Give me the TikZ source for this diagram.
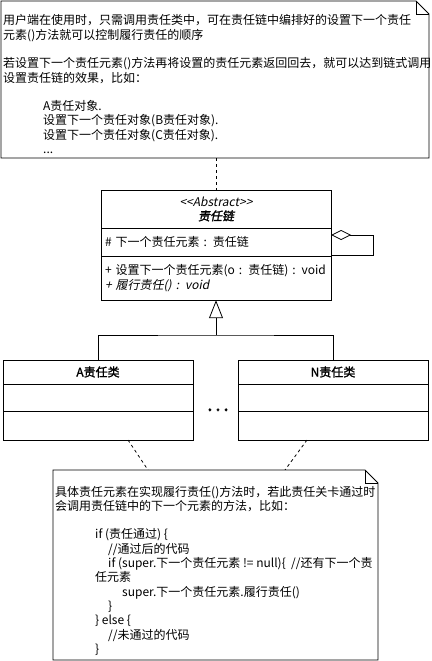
\documentclass[tikz,border=0pt]{standalone}
\usepackage{fontspec}
\setmainfont{Noto Sans CJK SC}[
  ItalicFont=Noto Sans CJK SC, ItalicFeatures={FakeSlant=0.2},
  BoldFont=Noto Sans CJK SC, BoldFeatures={FakeBold=1.5},
  BoldItalicFont=Noto Sans CJK SC, BoldItalicFeatures={FakeSlant=0.2,FakeBold=1.5}]
\usetikzlibrary{arrows.meta, positioning, fit, calc}
\definecolor{umlline}{RGB}{0, 0, 0}
\definecolor{umltext}{RGB}{0, 0, 0}
\newcommand{\umlfont}{\fontsize{12}{14.3}\selectfont}
\tikzset{
  umlpart/.style={rectangle, draw=umlline, line width=0.8pt, fill=white,
                  minimum width=#1, inner sep=0pt, outer sep=0pt,
                  align=center, font=\umlfont, text=umltext},
  umlpart/.default=190pt,
  umlrow/.style={umlpart=230pt, text width=222pt, inner xsep=4pt, align=left},
  notebox/.style={rectangle, inner sep=0pt, outer sep=0pt},
  noteline/.style={draw=umlline, line width=0.8pt, fill=white, line join=miter},
  notetext/.style={inner sep=0pt, align=left, font=\umlfont, text=umltext},
  dashline/.style={draw=umlline, line width=0.8pt, dash pattern=on 3pt off 3pt},
  edge/.style={draw=umlline, line width=0.8pt},
  inherit/.style={edge, -{Triangle[open, length=18pt, width=14pt]}},
  aggr/.style={edge, {Diamond[open, length=20pt, width=10pt]}-},
}

\begin{document}
\begin{tikzpicture}[x=1pt, y=-1pt]
  \useasboundingbox (0,0) rectangle (431,661);

  % note on top
  \node[notebox, minimum width=428pt, minimum height=157pt] (topnote) at (215,79.5) {};
  \draw[noteline] (topnote.north west) -- ([xshift=-13pt]topnote.north east)
    -- ([yshift=-13pt]topnote.north east) -- (topnote.south east)
    -- (topnote.south west) -- cycle;
  \draw[noteline, fill=none] ([xshift=-13pt]topnote.north east) |- ([yshift=-13pt]topnote.north east);
  \node[notetext, anchor=north west] (toptext) at (3,14.5) {%
    用户端在使用时，只需调用责任类中，可在责任链中编排好的设置下一个责任\\
    元素()方法就可以控制履行责任的顺序\\
    ~\\
    若设置下一个责任元素()方法再将设置的责任元素返回回去，就可以达到链式调用\\
    设置责任链的效果，比如：\\
    ~\\
    \hspace*{40pt}A责任对象.\\
    \hspace*{40pt}设置下一个责任对象(B责任对象).\\
    \hspace*{40pt}设置下一个责任对象(C责任对象).\\
    \hspace*{40pt}...};

  % abstract class
  \node[umlpart=230pt, minimum height=38pt] (chainhead) at (216,209)
    {\textit{<{}<Abstract>{}>}\\\textbf{\textit{责任链}}};
  \node[umlrow, minimum height=28pt, below=0pt of chainhead] (chainattr)
    {\# 下一个责任元素 : 责任链};
  \node[umlrow, minimum height=44pt, below=0pt of chainattr] (chainops)
    {+ 设置下一个责任元素(o : 责任链) : void\\\textit{+ 履行责任() : void}};
  \node[fit=(chainhead)(chainops), inner sep=0pt] (chain) {};

  \draw[dashline] (chain.north |- topnote.south) -- (chain.north);
  \draw[aggr] ([yshift=10pt]chain.east) -- ++(42,0) |- ([yshift=-10pt]chain.east);

  % concrete classes
  \node[umlpart, minimum height=24pt, font=\umlfont\bfseries] (ahead) at (98,372) {A责任类};
  \node[umlpart, minimum height=27pt, below=0pt of ahead] (aattr) {};
  \node[umlpart, minimum height=29pt, below=0pt of aattr] (aops) {};

  \node[umlpart, minimum height=24pt, font=\umlfont\bfseries] (nhead) at (333,372) {N责任类};
  \node[umlpart, minimum height=27pt, below=0pt of nhead] (nattr) {};
  \node[umlpart, minimum height=29pt, below=0pt of nattr] (nops) {};

  \node[font=\fontsize{20}{20}\selectfont\bfseries, anchor=base, inner sep=0pt] (dots)
    at (218,411) {.\hspace{2.5pt}.\hspace{2.5pt}.};

  \coordinate (split) at (216,335);
  \draw[edge] (ahead.north) |- (split) -| (nhead.north);
  \draw[inherit] (split) -- (chain.south);

  % note at the bottom
  \node[notebox, minimum width=325pt, minimum height=190pt] (codenote) at (215.5,565) {};
  \draw[dashline] ([xshift=30pt]aops.south) -- ([xshift=-67.5pt]codenote.north);
  \draw[dashline] ([xshift=-26pt]nops.south) -- ([xshift=69.5pt]codenote.north);
  \draw[noteline] (codenote.north west) -- ([xshift=-13pt]codenote.north east)
    -- ([yshift=-13pt]codenote.north east) -- (codenote.south east)
    -- (codenote.south west) -- cycle;
  \draw[noteline, fill=none] ([xshift=-13pt]codenote.north east) |- ([yshift=-13pt]codenote.north east);
  \node[notetext, anchor=north west] (codetext) at (55,485.7) {%
    具体责任元素在实现履行责任()方法时，若此责任关卡通过时\\
    会调用责任链中的下一个元素的方法，比如：\\
    ~\\
    \hspace*{40pt}if (责任通过) \{\\
    \hspace*{53pt}//通过后的代码\\
    \hspace*{53pt}if (super.下一个责任元素 != null)\{~~//还有下一个责\\
    \hspace*{40pt}任元素\\
    \hspace*{67pt}super.下一个责任元素.履行责任()\\
    \hspace*{53pt}\}\\
    \hspace*{40pt}\} else \{\\
    \hspace*{53pt}//未通过的代码\\
    \hspace*{40pt}\}};
\end{tikzpicture}
\end{document}
